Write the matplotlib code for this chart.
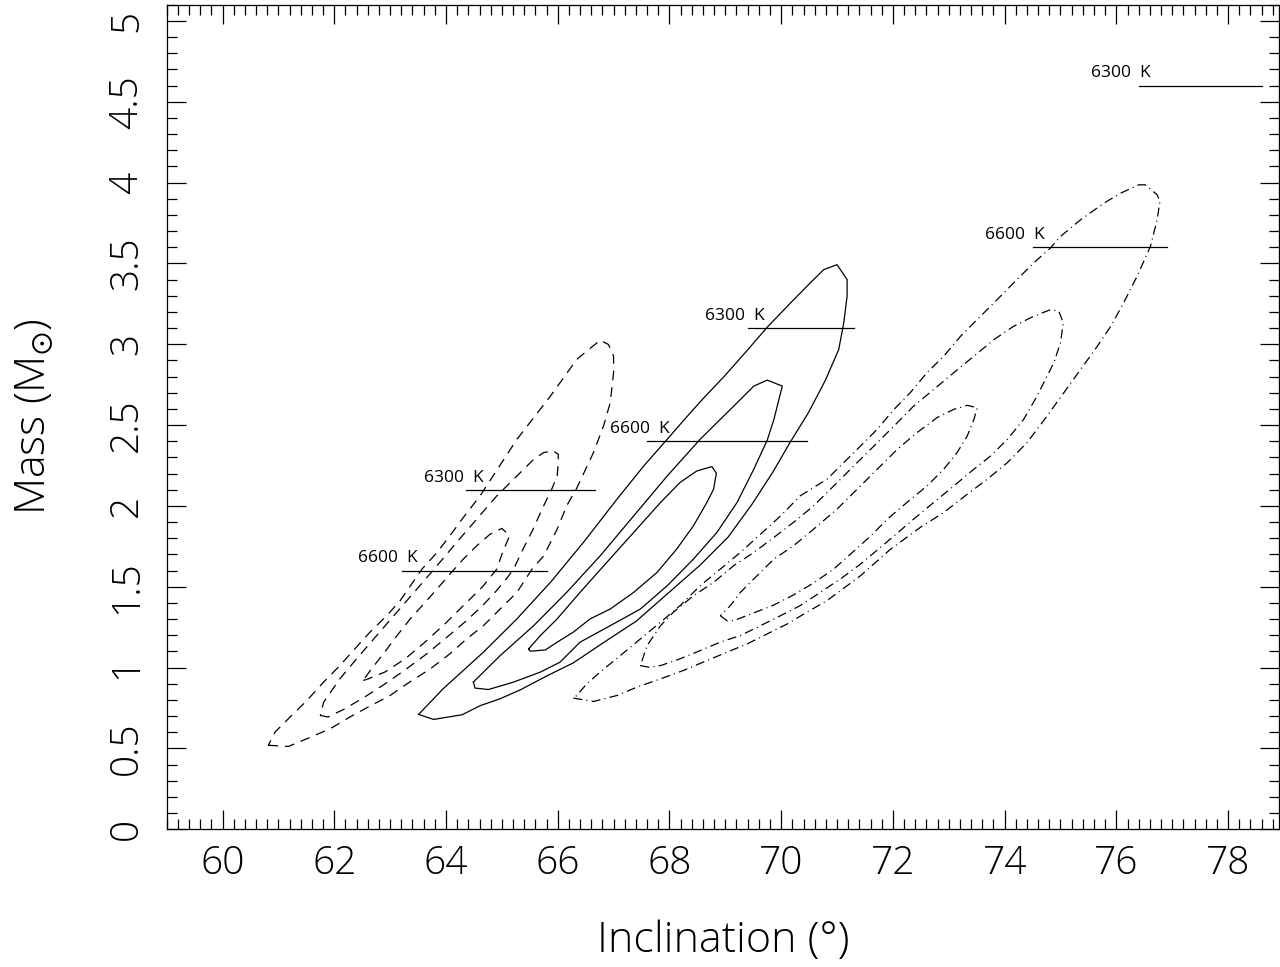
import matplotlib
matplotlib.use("Agg")
import matplotlib.pyplot as plt

plt.rcParams['font.family'] = ['Open Sans', 'DejaVu Sans']
plt.rcParams['font.weight'] = 'light'
plt.rcParams['axes.labelweight'] = 'light'
plt.rcParams['mathtext.fontset'] = 'dejavusans'
plt.rcParams['lines.scale_dashes'] = False

# confidence contours, solid set (inclination in deg, mass in Msun)
solid_outer_inc = [63.51, 63.78, 64.29, 64.61, 64.97, 65.33, 65.81, 66.28, 66.81, 67.41,
                   67.98, 68.55, 69.05, 69.48, 69.86, 70.16, 70.49, 70.79, 71.03, 71.12,
                   71.18, 71.18, 71.00, 70.76, 70.52, 70.11, 69.75, 69.39, 68.98, 68.59,
                   68.27, 67.96, 67.54, 67.06, 66.46, 65.87, 65.27, 64.67, 63.95]
solid_outer_mass = [0.710, 0.679, 0.708, 0.764, 0.807, 0.862, 0.949, 1.029, 1.152, 1.288,
                    1.461, 1.634, 1.807, 2.011, 2.214, 2.393, 2.578, 2.776, 2.967, 3.132,
                    3.296, 3.400, 3.492, 3.461, 3.379, 3.235, 3.105, 2.961, 2.801, 2.659,
                    2.535, 2.412, 2.247, 2.041, 1.774, 1.527, 1.301, 1.095, 0.869]

solid_mid_inc = [64.49, 64.52, 64.76, 65.21, 65.69, 66.04, 66.40, 66.94, 67.48, 67.96,
                 68.43, 68.85, 69.21, 69.51, 69.75, 69.87, 69.99, 70.02, 69.75, 69.51,
                 69.15, 68.55, 67.96, 67.36, 66.76, 66.16, 65.57, 64.97, 64.61]
solid_mid_mass = [0.910, 0.873, 0.864, 0.910, 0.972, 1.033, 1.157, 1.259, 1.362, 1.506,
                  1.671, 1.836, 2.021, 2.227, 2.406, 2.535, 2.700, 2.741, 2.778, 2.741,
                  2.617, 2.412, 2.185, 1.938, 1.691, 1.465, 1.259, 1.074, 0.951]

solid_in_inc = [65.48, 65.51, 65.78, 65.99, 66.28, 66.58, 66.94, 67.36, 67.78, 68.13,
                68.43, 68.67, 68.79, 68.84, 68.76, 68.49, 68.19, 67.84, 67.36, 66.88,
                66.40, 65.99, 65.69]
solid_in_mass = [1.115, 1.101, 1.109, 1.157, 1.219, 1.301, 1.362, 1.465, 1.589, 1.733,
                 1.877, 2.021, 2.103, 2.202, 2.243, 2.216, 2.145, 2.021, 1.836, 1.651,
                 1.465, 1.301, 1.198]

# dashed set
dash_outer_inc = [60.82, 61.18, 61.54, 61.93, 62.28, 62.64, 63.00, 63.30, 63.72, 64.07,
                  64.37, 64.67, 64.97, 65.27, 65.54, 65.75, 65.99, 66.16, 66.34, 66.64,
                  66.82, 66.94, 67.00, 67.00, 66.91, 66.76, 66.34, 65.87, 65.27, 64.61,
                  64.31, 64.07, 63.84, 63.57, 63.18, 62.94, 62.64, 62.34, 62.10, 61.81,
                  61.51, 61.21, 60.94]
dash_outer_mass = [0.519, 0.512, 0.564, 0.622, 0.694, 0.762, 0.827, 0.899, 0.992, 1.085,
                   1.177, 1.259, 1.362, 1.465, 1.609, 1.691, 1.856, 2.000, 2.109, 2.330,
                   2.494, 2.638, 2.824, 2.926, 2.998, 3.025, 2.906, 2.679, 2.412, 2.062,
                   1.928, 1.815, 1.712, 1.609, 1.414, 1.321, 1.219, 1.105, 1.012, 0.910,
                   0.796, 0.694, 0.601]

dash_mid_inc = [61.75, 61.89, 62.19, 62.55, 62.91, 63.27, 63.63, 63.98, 64.34, 64.65,
                64.90, 65.08, 65.21, 65.38, 65.56, 65.72, 65.90, 65.99, 66.01, 66.01,
                65.92, 65.75, 65.57, 65.27, 64.91, 64.55, 64.19, 63.84, 63.48, 63.12,
                62.76, 62.40, 62.10, 61.81]
dash_mid_mass = [0.704, 0.694, 0.745, 0.819, 0.899, 0.986, 1.078, 1.177, 1.282, 1.381,
                 1.474, 1.548, 1.609, 1.733, 1.856, 1.980, 2.109, 2.185, 2.268, 2.319,
                 2.340, 2.330, 2.288, 2.185, 2.062, 1.918, 1.774, 1.630, 1.486, 1.342,
                 1.198, 1.054, 0.930, 0.786]

dash_in_inc = [62.52, 62.61, 62.91, 63.27, 63.63, 63.98, 64.34, 64.65, 64.91, 65.02,
               65.14, 65.00, 64.79, 64.55, 64.31, 64.07, 63.84, 63.60, 63.36, 63.12,
               62.88, 62.64]
dash_in_mass = [0.920, 0.930, 0.973, 1.054, 1.159, 1.270, 1.393, 1.498, 1.609, 1.720,
                1.815, 1.861, 1.825, 1.753, 1.671, 1.578, 1.486, 1.393, 1.301, 1.196,
                1.085, 0.980]

# dash-dot set
dd_outer_inc = [66.28, 66.64, 67.06, 67.42, 67.84, 68.25, 68.67, 69.03, 69.39, 69.75,
                70.11, 70.46, 70.82, 71.18, 71.42, 71.95, 72.49, 72.91, 73.33, 73.69,
                74.05, 74.40, 74.76, 75.06, 75.36, 75.66, 75.90, 76.13, 76.37, 76.61,
                76.73, 76.78, 76.73, 76.52, 76.40, 76.08, 75.78, 75.36, 75.00, 74.82,
                74.52, 74.16, 73.81, 73.51, 73.21, 72.91, 72.61, 72.31, 72.02, 71.72,
                71.42, 71.12, 70.82, 70.34, 69.99, 69.63, 69.27, 68.91, 68.55, 68.19,
                67.84, 67.48, 67.12, 66.76, 66.52, 66.34]
dd_outer_mass = [0.811, 0.790, 0.827, 0.879, 0.930, 0.982, 1.043, 1.095, 1.146, 1.208,
                 1.270, 1.342, 1.414, 1.506, 1.568, 1.730, 1.867, 1.959, 2.072, 2.165,
                 2.268, 2.391, 2.556, 2.700, 2.844, 2.988, 3.111, 3.256, 3.420, 3.605,
                 3.770, 3.883, 3.924, 3.986, 3.986, 3.935, 3.873, 3.770, 3.667, 3.595,
                 3.503, 3.379, 3.256, 3.153, 3.049, 2.926, 2.824, 2.700, 2.597, 2.474,
                 2.370, 2.268, 2.165, 2.062, 1.938, 1.825, 1.712, 1.609, 1.506, 1.383,
                 1.280, 1.177, 1.074, 0.972, 0.899, 0.827]

dd_mid_inc = [67.48, 67.63, 67.84, 68.19, 68.55, 68.91, 69.27, 69.63, 69.99, 70.34,
              70.70, 71.06, 71.42, 71.90, 72.37, 72.73, 73.09, 73.45, 73.75, 74.05,
              74.34, 74.58, 74.76, 74.88, 75.00, 75.05, 74.97, 74.82, 74.52, 74.16,
              73.81, 73.45, 73.09, 72.73, 72.37, 72.02, 71.66, 71.30, 70.94, 70.58,
              70.22, 69.87, 69.51, 69.15, 68.79, 68.43, 68.07, 67.84, 67.60]
dd_mid_mass = [1.012, 1.002, 1.012, 1.054, 1.105, 1.157, 1.198, 1.259, 1.321, 1.383,
               1.465, 1.548, 1.640, 1.779, 1.918, 2.021, 2.123, 2.227, 2.309, 2.412,
               2.535, 2.679, 2.803, 2.885, 3.009, 3.132, 3.204, 3.214, 3.173, 3.111,
               3.029, 2.926, 2.824, 2.720, 2.617, 2.494, 2.370, 2.247, 2.123, 2.000,
               1.898, 1.805, 1.712, 1.630, 1.527, 1.444, 1.342, 1.259, 1.136]

dd_in_inc = [68.91, 69.03, 69.15, 69.51, 69.87, 70.22, 70.58, 70.94, 71.30, 71.60,
             71.90, 72.25, 72.61, 72.91, 73.15, 73.33, 73.45, 73.51, 73.33, 73.09,
             72.79, 72.43, 72.08, 71.72, 71.36, 71.00, 70.58, 70.22, 69.87, 69.51,
             69.27, 69.09]
dd_in_mass = [1.321, 1.290, 1.290, 1.338, 1.387, 1.449, 1.523, 1.609, 1.720, 1.813,
              1.918, 2.021, 2.123, 2.227, 2.330, 2.432, 2.535, 2.607, 2.622, 2.597,
              2.546, 2.453, 2.350, 2.227, 2.103, 1.980, 1.856, 1.753, 1.671, 1.548,
              1.465, 1.383]

# temperature markers: label, label x, bar start, bar end, mass
temp_labels = ['6300  K', '6600  K', '6300  K', '6600  K', '6300  K', '6600  K']
temp_text_x = [75.54, 73.64, 68.64, 66.94, 63.60, 62.43]
temp_x0 = [76.40, 74.50, 69.41, 67.60, 64.36, 63.21]
temp_x1 = [78.61, 76.91, 71.31, 70.46, 66.66, 65.81]
temp_mass = [4.6, 3.6, 3.1, 2.4, 2.1, 1.6]


def closed(xs, ys):
    return list(xs) + [xs[0]], list(ys) + [ys[0]]


fig = plt.figure(figsize=(12.8, 9.67), dpi=100)
ax = fig.add_axes([0.1302, 0.1425, 0.8694, 0.8526])

solid = dict(color='black', lw=0.9, ls='-')
dashed = dict(color='black', lw=0.9, ls=(0, (7, 5)))
dashdot = dict(color='black', lw=0.9, ls=(0, (6.5, 3, 0.8, 3)))

for xs, ys, st in [(solid_outer_inc, solid_outer_mass, solid),
                   (solid_mid_inc, solid_mid_mass, solid),
                   (solid_in_inc, solid_in_mass, solid),
                   (dash_outer_inc, dash_outer_mass, dashed),
                   (dash_mid_inc, dash_mid_mass, dashed),
                   (dash_in_inc, dash_in_mass, dashed),
                   (dd_outer_inc, dd_outer_mass, dashdot),
                   (dd_mid_inc, dd_mid_mass, dashdot),
                   (dd_in_inc, dd_in_mass, dashdot)]:
    cx, cy = closed(xs, ys)
    ax.plot(cx, cy, **st)

for lab, tx, x0, x1, m in zip(temp_labels, temp_text_x, temp_x0, temp_x1, temp_mass):
    ax.plot([x0, x1], [m, m], color='black', lw=0.9)
    ax.annotate(lab, (tx, m), xytext=(0, 3), textcoords='offset points',
                ha='left', va='bottom', fontsize=12.5, fontweight='normal',
                color='black')

ax.set_xlim(59, 78.92)
ax.set_ylim(0, 5.1)
ax.set_xticks(range(60, 79, 2))
ax.set_yticks([0, 0.5, 1, 1.5, 2, 2.5, 3, 3.5, 4, 4.5, 5])
ax.set_yticklabels(['0', '0.5', '1', '1.5', '2', '2.5', '3', '3.5', '4', '4.5', '5'])
ax.xaxis.set_minor_locator(matplotlib.ticker.MultipleLocator(0.2))
ax.yaxis.set_minor_locator(matplotlib.ticker.MultipleLocator(0.1))
ax.tick_params(which='both', direction='in', top=True, right=True, width=0.9, color='black')
ax.tick_params(which='major', length=13.5)
ax.tick_params(which='minor', length=7)
ax.tick_params(axis='x', which='major', labelsize=28, pad=11)
ax.tick_params(axis='y', which='major', labelsize=28, pad=15)
for lab in ax.get_yticklabels():
    lab.set_rotation(90)
    lab.set_va('center')
for sp in ax.spines.values():
    sp.set_linewidth(0.9)

ax.set_xlabel('Inclination (°)', fontsize=31, fontweight='light', va='center')
ax.xaxis.set_label_coords(0.5, -0.1355)
ax.set_ylabel(r'Mass (M$_{\odot}$)', fontsize=31, fontweight='light', va='center')
ax.yaxis.set_label_coords(-0.1184, 0.5)

fig.savefig('out.png', dpi=100)
